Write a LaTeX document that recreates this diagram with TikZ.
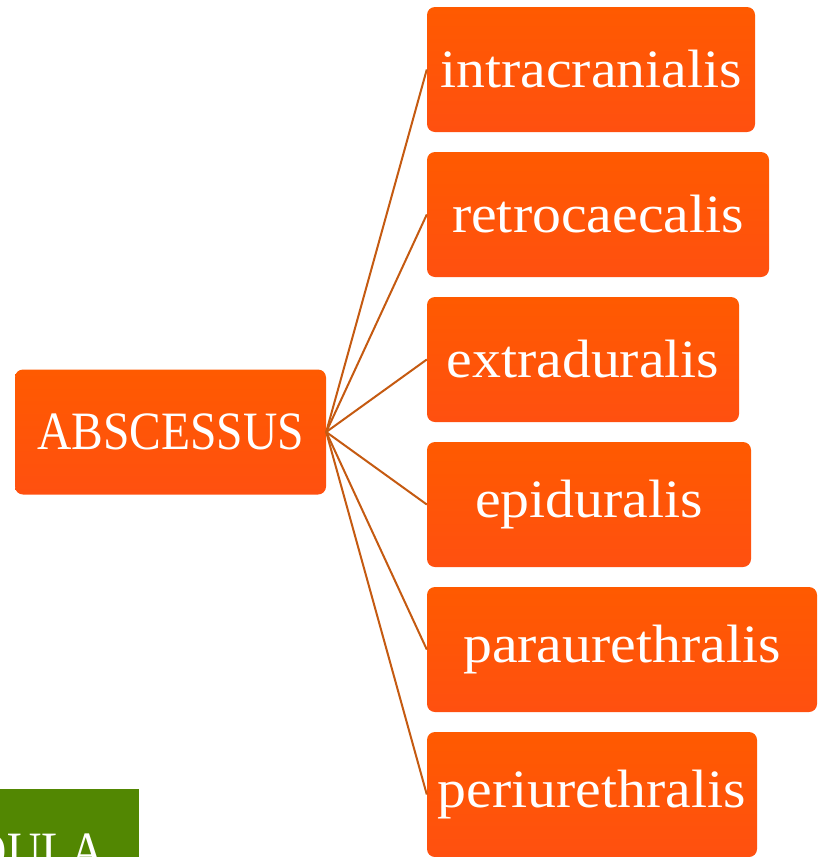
\documentclass[tikz,border=0pt]{standalone}
\usepackage{fontspec}
\setmainfont{Liberation Serif}
\newfontfamily\widefont[FakeStretch=1.07]{Liberation Serif}
\newfontfamily\narrowfont[FakeStretch=0.88]{Liberation Serif}
\definecolor{boxtop}{RGB}{255,90,0}
\definecolor{boxbot}{RGB}{255,80,16}
\definecolor{linkcol}{RGB}{197,90,17}
\definecolor{leafgreen}{RGB}{82,135,2}
\begin{document}
\begin{tikzpicture}[x=1pt,y=-1pt,
  box/.style={rounded corners=8pt, top color=boxtop, bottom color=boxbot,
    text=white, font=\fontsize{54}{60}\selectfont\widefont, minimum height=125pt, inner sep=0pt},
  link/.style={draw=linkcol, line width=2pt}]

\useasboundingbox (0,0) rectangle (823,857);

\begin{scope}
\clip (0,0) rectangle (823,857);
\fill[leafgreen] (0,789) rectangle (139,870);
\node[text=white, font=\fontsize{54}{60}\selectfont\narrowfont, anchor=base east, inner sep=0pt] (gl) at (105,869) {DULA};
\end{scope}

\node[box, font=\fontsize{54}{60}\selectfont\narrowfont, minimum width=311pt] (abs) at (170.5,432) {ABSCESSUS};

\node[box, minimum width=328pt] (intra) at (591,69.5) {intracranialis};
\node[box, minimum width=342pt] (retro) at (598,214.5) {retrocaecalis};
\node[box, minimum width=312pt] (extra) at (583,359.5) {extraduralis};
\node[box, minimum width=324pt] (epi) at (589,504.5) {epiduralis};
\node[box, minimum width=390pt] (para) at (622,649.5) {paraurethralis};
\node[box, minimum width=330pt] (peri) at (592,794.5) {periurethralis};

\foreach \n in {intra,retro,extra,epi,para,peri}
  \draw[link] (abs.east) -- (\n.west);
\end{tikzpicture}
\end{document}
